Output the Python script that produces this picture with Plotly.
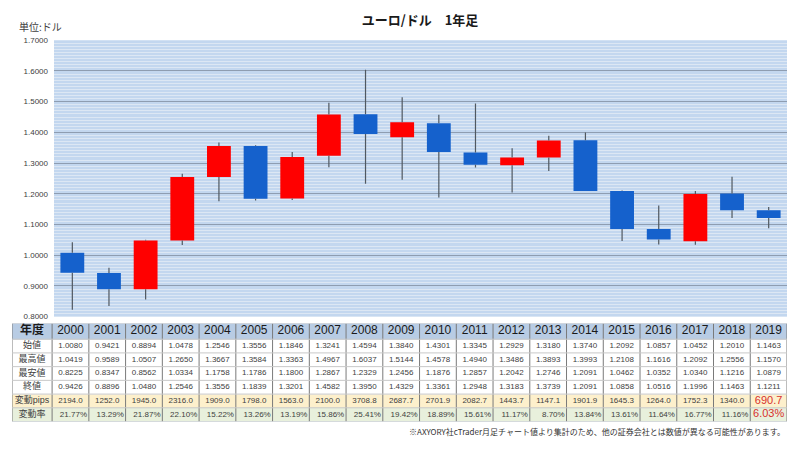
import plotly.graph_objects as go

years = [str(y) for y in range(2000, 2020)]
open_ = [1.0080, 0.9421, 0.8894, 1.0478, 1.2546, 1.3556, 1.1846, 1.3241, 1.4594, 1.3840,
         1.4301, 1.3345, 1.2929, 1.3180, 1.3740, 1.2092, 1.0857, 1.0452, 1.2010, 1.1463]
high = [1.0419, 0.9589, 1.0507, 1.2650, 1.3667, 1.3584, 1.3363, 1.4967, 1.6037, 1.5144,
        1.4578, 1.4940, 1.3486, 1.3893, 1.3993, 1.2108, 1.1616, 1.2092, 1.2556, 1.1570]
low = [0.8225, 0.8347, 0.8562, 1.0334, 1.1758, 1.1786, 1.1800, 1.2867, 1.2329, 1.2456,
       1.1876, 1.2857, 1.2042, 1.2746, 1.2091, 1.0462, 1.0352, 1.0340, 1.1216, 1.0879]
close = [0.9426, 0.8896, 1.0480, 1.2546, 1.3556, 1.1839, 1.3201, 1.4582, 1.3950, 1.4329,
         1.3361, 1.2948, 1.3183, 1.3739, 1.2091, 1.0858, 1.0516, 1.1996, 1.1463, 1.1211]
pips = [2194.0, 1252.0, 1945.0, 2316.0, 1909.0, 1798.0, 1563.0, 2100.0, 3708.8, 2687.7,
        2701.9, 2082.7, 1443.7, 1147.1, 1901.9, 1645.3, 1264.0, 1752.3, 1340.0, 690.7]
pct = [21.77, 13.29, 21.87, 22.10, 15.22, 13.26, 13.19, 15.86, 25.41, 19.42,
       18.89, 15.61, 11.17, 8.70, 13.84, 13.61, 11.64, 16.77, 11.16, 6.03]
header_label = "年度"
row_labels = ["始値", "最高値", "最安値", "終値", "変動pips", "変動率"]
y_ticks = [0.8, 0.9, 1.0, 1.1, 1.2, 1.3, 1.4, 1.5, 1.6, 1.7]

W, H = 800, 452
UP = "#ff0000"
DOWN = "#1561cc"
WICK = "#505860"
FONT = "Liberation Sans, Noto Sans CJK JP"
JP = "Noto Sans CJK JP"

fig = go.Figure()

# ---------- candlesticks ----------
base = [min(o, c) for o, c in zip(open_, close)]
body = [abs(c - o) for o, c in zip(open_, close)]
colors = [UP if c >= o else DOWN for o, c in zip(open_, close)]
fig.add_trace(go.Bar(x=years, y=body, base=base, width=0.65,
                     marker=dict(color=colors, line=dict(width=0)),
                     hoverinfo="skip", showlegend=False))

wx, wy = [], []
for i, yr in enumerate(years):
    top = max(open_[i], close[i])
    bot = min(open_[i], close[i])
    wx += [yr, yr, None, yr, yr, None]
    wy += [top, high[i], None, low[i], bot, None]
fig.add_trace(go.Scatter(x=wx, y=wy, mode="lines", line=dict(color=WICK, width=1.2),
                         hoverinfo="skip", showlegend=False))

# ---------- data table (x2 / y2) ----------
ncol = len(years)
label_w = 40 / 36.65                      # label column width in year-column units
x_edges = [-0.5 - label_w] + [i - 0.5 for i in range(ncol + 1)]
row_h = [16, 14, 14, 14, 14, 14, 14]      # header + 6 rows (px)
y_edges = [0]
for h in row_h:
    y_edges.append(y_edges[-1] + h)
y_centers = [(y_edges[k] + y_edges[k + 1]) / 2 for k in range(len(row_h))]
x_centers = [(x_edges[k] + x_edges[k + 1]) / 2 for k in range(ncol + 1)]

row_kind = [0, 1, 1, 1, 1, 2, 3]          # header / white / yellow / green
z = [[k] * (ncol + 1) for k in row_kind]
fig.add_trace(go.Heatmap(
    x=x_edges, y=y_edges, z=z, zmin=0, zmax=3, showscale=False, hoverinfo="skip",
    colorscale=[[0, "#b8cce4"], [1 / 6, "#b8cce4"], [1 / 6, "#ffffff"], [0.5, "#ffffff"],
                [0.5, "#fdf0cc"], [5 / 6, "#fdf0cc"], [5 / 6, "#e8f0dc"], [1, "#e8f0dc"]],
    xaxis="x2", yaxis="y2"))

# grid lines of the table
lx, ly = [], []
for e in x_edges:
    lx += [e, e, None]
    ly += [y_edges[0], y_edges[-1], None]
fig.add_trace(go.Scatter(x=lx, y=ly, mode="lines", line=dict(color="#7a7a7a", width=1),
                         hoverinfo="skip", showlegend=False, xaxis="x2", yaxis="y2"))
hx, hy = [], []
for e in y_edges:
    hx += [x_edges[0], x_edges[-1], None]
    hy += [e, e, None]
fig.add_trace(go.Scatter(x=hx, y=hy, mode="lines", line=dict(color="#c8c8c8", width=1),
                         hoverinfo="skip", showlegend=False, xaxis="x2", yaxis="y2"))

# table texts
tx, ty, tt, ts, tc, tp = [], [], [], [], [], []
tx.append(x_centers[0]); ty.append(y_centers[0]); tt.append("<b>" + header_label + "</b>")
ts.append(12); tc.append("#1a1a1a"); tp.append("middle center")
for i, yr in enumerate(years):
    tx.append(x_centers[i + 1]); ty.append(y_centers[0]); tt.append(yr)
    ts.append(12); tc.append("#1a1a1a"); tp.append("middle center")
for r, lab in enumerate(row_labels):
    tx.append(x_centers[0]); ty.append(y_centers[r + 1]); tt.append(lab)
    ts.append(9); tc.append("#404040"); tp.append("middle center")
for i in range(ncol):
    last = i == ncol - 1
    vals = [f"{open_[i]:.4f}", f"{high[i]:.4f}", f"{low[i]:.4f}", f"{close[i]:.4f}",
            f"{pips[i]:.1f}", f"{pct[i]:.2f}%"]
    for r, v in enumerate(vals):
        big = last and r >= 4
        if r == 5 and not big:
            tx.append(x_centers[i + 1] + 0.45); tp.append("middle left")
        else:
            tx.append(x_centers[i + 1]); tp.append("middle center")
        ty.append(y_centers[r + 1]); tt.append(v)
        ts.append(11 if big else 8)
        tc.append("#d8302c" if big else "#404040")
fig.add_trace(go.Scatter(x=tx, y=ty, text=tt, mode="text", textposition=tp,
                         textfont=dict(family=FONT, size=ts, color=tc),
                         hoverinfo="skip", showlegend=False, xaxis="x2", yaxis="y2"))

fig.update_layout(
    width=W, height=H,
    margin=dict(l=0, r=0, t=0, b=0),
    paper_bgcolor="#ffffff",
    plot_bgcolor="#c3d7ef",
    barmode="overlay",
    title=dict(text="<b>ユーロ/ドル　1年足</b>", x=420 / W, xanchor="center",
               y=1 - 20 / H, yanchor="middle", yref="container",
               font=dict(family=JP, size=13, color="#1a1a1a")),
    xaxis=dict(domain=[54 / W, 787 / W], type="category", categoryorder="array",
               categoryarray=years, range=[-0.5, ncol - 0.5], showticklabels=False,
               showgrid=False, zeroline=False, ticks=""),
    yaxis=dict(domain=[1 - 319 / H, 1 - 37 / H], range=[0.8, 1.7], tickvals=y_ticks,
               tickformat=".4f", tickfont=dict(family=FONT, size=8, color="#404040"),
               showgrid=True, gridcolor="#8e9db1", gridwidth=1,
               minor=dict(dtick=0.01, showgrid=True, gridcolor="#dce7f4", gridwidth=1),
               zeroline=False, ticks="", ticklabelstandoff=5),
    xaxis2=dict(domain=[12 / W, 787 / W], range=[x_edges[0], x_edges[-1]], anchor="y2",
                visible=False, showgrid=False, zeroline=False),
    yaxis2=dict(domain=[1 - 426 / H, 1 - 326 / H], range=[y_edges[-1], y_edges[0]],
                anchor="x2", visible=False, showgrid=False, zeroline=False),
    annotations=[
        dict(text="単位:ドル", x=17 / W, y=1 - 23 / H, xref="paper", yref="paper",
             xanchor="left", yanchor="middle", showarrow=False,
             font=dict(family=JP, size=10, color="#404040")),
        dict(text="※AXYORY社cTrader月足チャート値より集計のため、他の証券会社とは数値が異なる可能性があります。",
             x=787 / W, y=1 - 436 / H, xref="paper", yref="paper",
             xanchor="right", yanchor="middle", showarrow=False,
             font=dict(family=JP, size=8, color="#333333")),
    ],
)

fig.write_html("out.html")
